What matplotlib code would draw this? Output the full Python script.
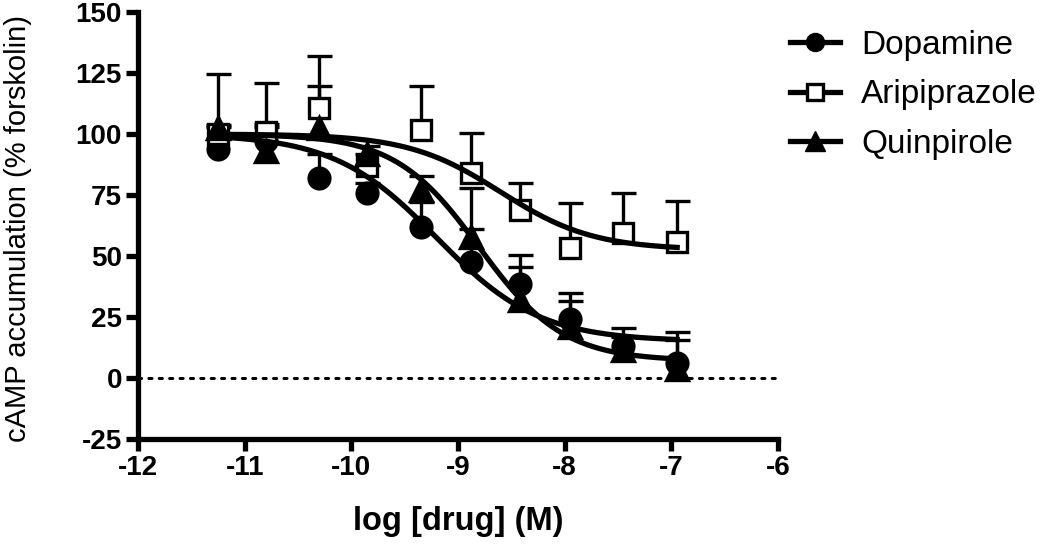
import numpy as np
import matplotlib
matplotlib.use('Agg')
import matplotlib.pyplot as plt
from matplotlib.lines import Line2D

plt.rcParams['font.family'] = ['Liberation Sans', 'DejaVu Sans']
plt.rcParams['axes.unicode_minus'] = False

# log concentration (M)
log_conc = [-11.25, -10.8, -10.3, -9.85, -9.35, -8.88, -8.42, -7.95, -7.45, -6.95]

# % forskolin, mean and SEM (upper bar only)
dopamine = [94, 97, 82, 76, 62, 47.5, 38.5, 24.3, 13, 6]
dopamine_err = [9.5, 6, 10, 4, 10, 13.5, 7, 10.7, 4, 13]
aripiprazole = [100, 101, 110.5, 87, 101.5, 84, 69, 53.3, 59.4, 55.7]
aripiprazole_err = [3, 20, 21.5, 5, 18, 16.5, 11, 18.5, 16.6, 16.8]
quinpirole = [102.5, 93, 102.5, 92, 77, 58, 32, 21, 11.5, 3.5]
quinpirole_err = [22, 11, 17, 3, 6, 20, 18.5, 10.5, 9, 12]

# sigmoidal fit (top, bottom, logEC50, hill)
fit_dopamine = [100, 15, -9.2, 0.9]
fit_aripiprazole = [100, 52.5, -8.6, 1.0]
fit_quinpirole = [100, 7, -8.8, 1.1]

labels = ['Dopamine', 'Aripiprazole', 'Quinpirole']


def sigmoid(x, p):
    top, bottom, ec50, hill = p
    return bottom + (top - bottom) / (1 + 10 ** (hill * (x - ec50)))


fig = plt.figure(figsize=(10.5, 5.47), dpi=100)
ax = fig.add_axes([0.1314, 0.1974, 0.6095, 0.7806])

x = np.array(log_conc)
xx = np.linspace(x.min() - 0.08, x.max() + 0.03, 300)

series = [
    (dopamine, dopamine_err, fit_dopamine, 'o', 'black'),
    (aripiprazole, aripiprazole_err, fit_aripiprazole, 's', 'white'),
    (quinpirole, quinpirole_err, fit_quinpirole, '^', 'black'),
]

for y, err, fit, mk, fc in series:
    y = np.array(y)
    err = np.array(err)
    eb = ax.errorbar(x, y, yerr=[np.zeros_like(err), err], fmt='none',
                     ecolor='black', elinewidth=2.4, capsize=9, capthick=2.4,
                     zorder=2)
    eb[1][0].set_visible(False)
    ms = 15 if mk == 'o' else (16 if mk == '^' else 14)
    ax.plot(x, y, linestyle='none', marker=mk, markersize=ms,
            markerfacecolor=fc, markeredgecolor='black', markeredgewidth=2.4,
            zorder=3)
    ax.plot(xx, sigmoid(xx, fit), color='black', lw=3.8, zorder=4,
            solid_capstyle='butt')

ax.plot([-12, -6], [0, 0], color='black', lw=2.2, dashes=(1, 2.4),
        dash_capstyle='round', zorder=1)

ax.set_xlim(-12, -6)
ax.set_ylim(-25, 150)
ax.set_xticks([-12, -11, -10, -9, -8, -7, -6])
ax.set_yticks([-25, 0, 25, 50, 75, 100, 125, 150])

for s in ['top', 'right']:
    ax.spines[s].set_visible(False)
for s in ['left', 'bottom']:
    ax.spines[s].set_linewidth(3.8)
ax.tick_params(direction='out', length=8.5, width=3.8, labelsize=20, pad=3)
for lab in ax.get_xticklabels() + ax.get_yticklabels():
    lab.set_fontweight('bold')

ax.set_xlabel('log [drug] (M)', fontsize=23.5, fontweight='bold', labelpad=18)
ax.set_ylabel('cAMP accumulation (% forskolin)', fontsize=21)
ax.yaxis.set_label_coords(-0.166, 0.494)

handles = [
    Line2D([], [], color='black', lw=3.8, marker='o', markersize=13,
           markerfacecolor='black', markeredgecolor='black'),
    Line2D([], [], color='black', lw=3.8, marker='s', markersize=11,
           markerfacecolor='white', markeredgecolor='black', markeredgewidth=2.4),
    Line2D([], [], color='black', lw=3.8, marker='^', markersize=14,
           markerfacecolor='black', markeredgecolor='black'),
]
fig.legend(handles, labels, loc='upper left', bbox_to_anchor=(0.752, 0.945),
           frameon=False, fontsize=24, handlelength=1.5, handletextpad=0.65,
           labelspacing=0.55, borderpad=0, borderaxespad=0)

fig.savefig('out.png', dpi=100)
